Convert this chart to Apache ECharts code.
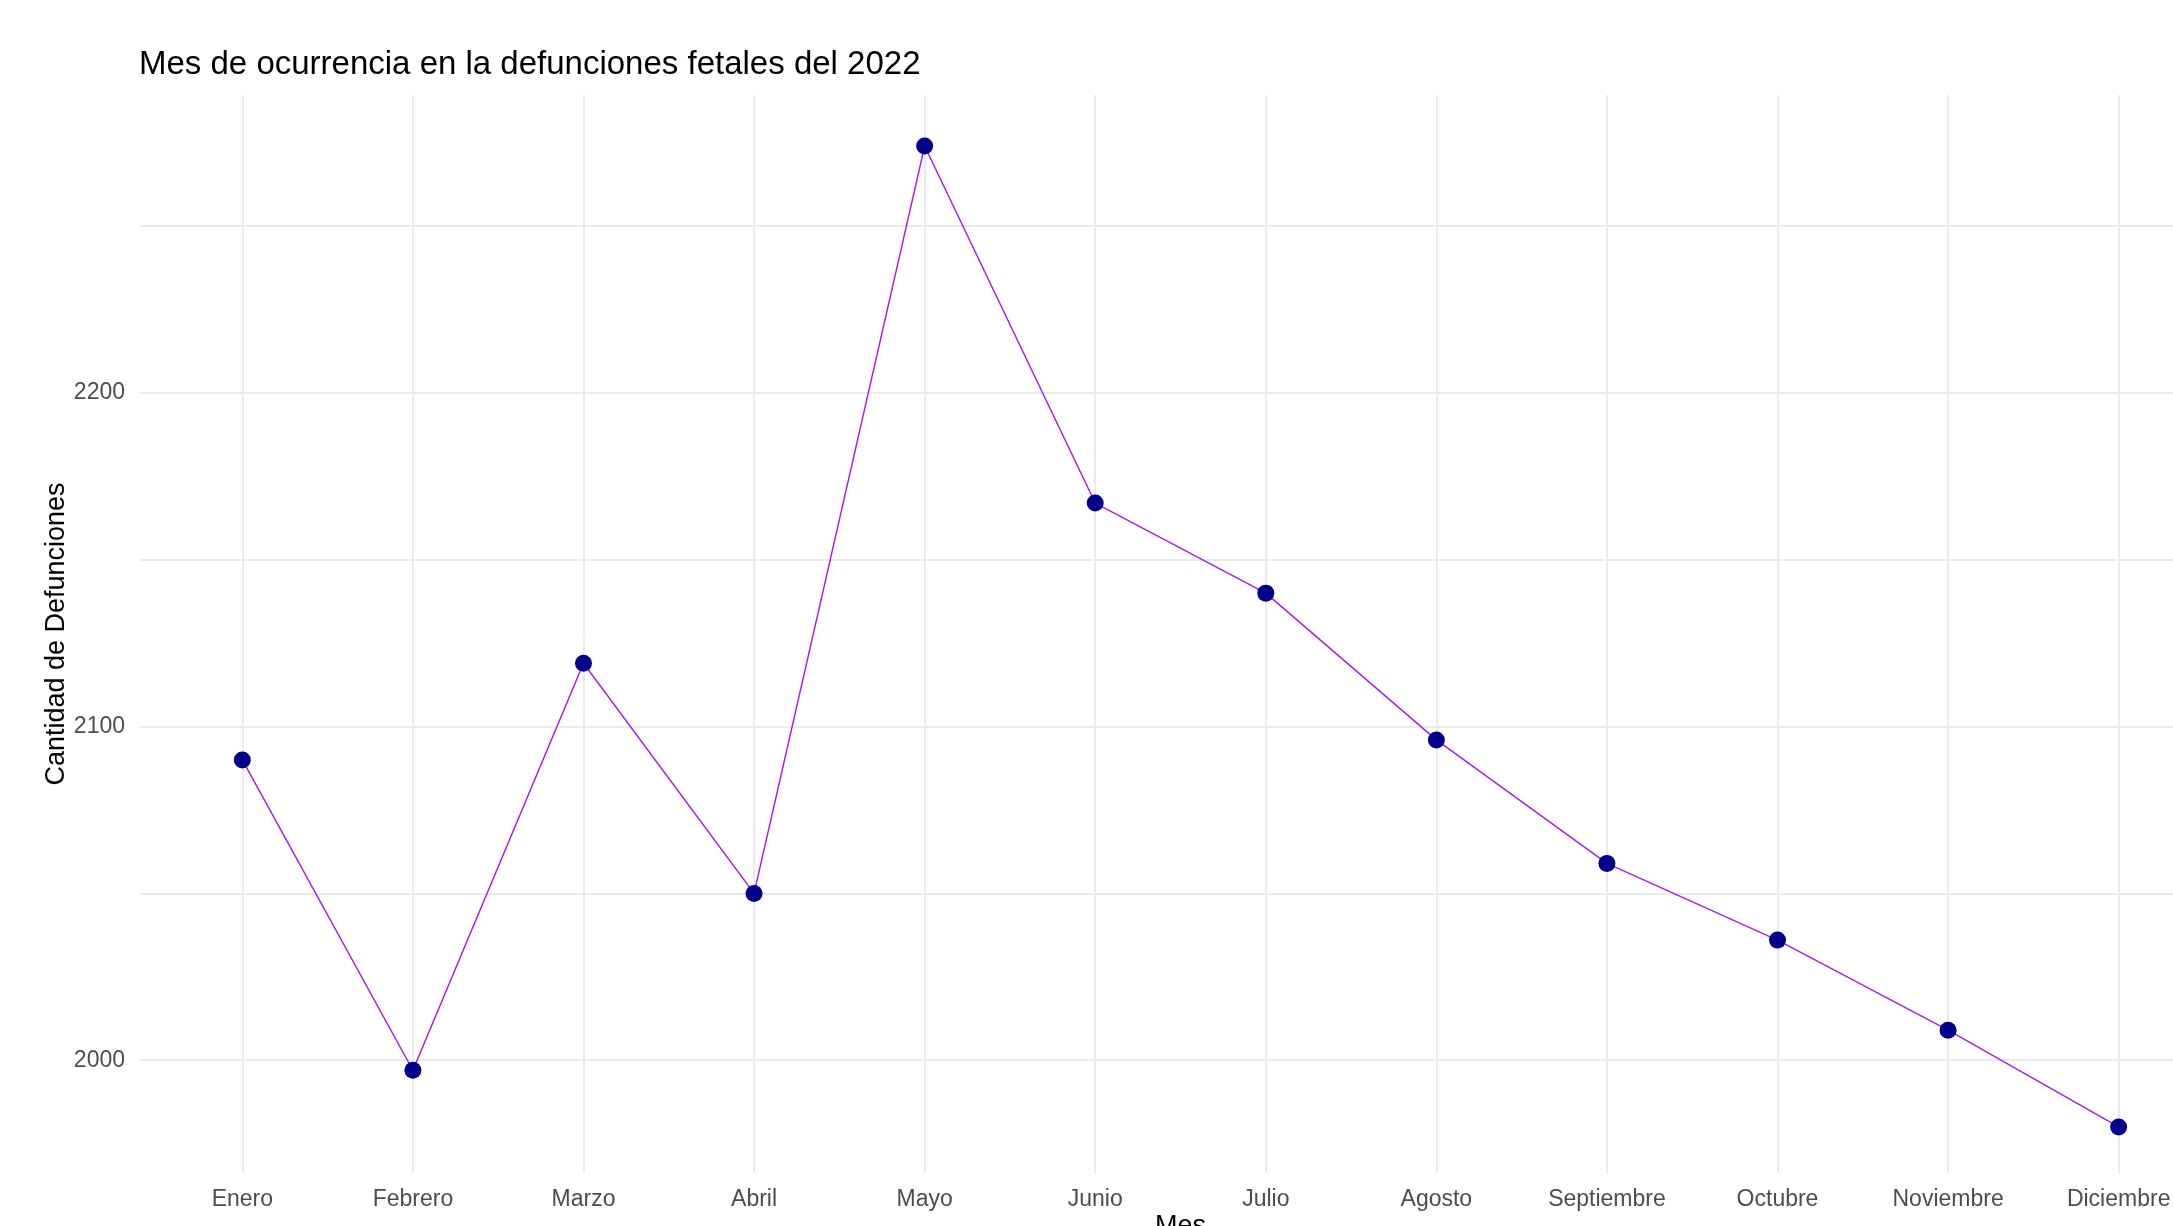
<!DOCTYPE html>
<html>
<head>
<meta charset="utf-8">
<title>Defunciones fetales 2022</title>
<script src="https://cdn.jsdelivr.net/npm/echarts@6/dist/echarts.min.js"></script>
<style>
	html, body { margin: 0; padding: 0; background: #fff; }
	#chart { width: 2173px; height: 1226px; }
</style>
</head>
<body>
<div id="chart"></div>
<script>
// meses (eje x)
const meses = ['Enero', 'Febrero', 'Marzo', 'Abril', 'Mayo', 'Junio',
	'Julio', 'Agosto', 'Septiembre', 'Octubre', 'Noviembre', 'Diciembre'];
// cantidad de defunciones por mes
const defunciones = [2090, 1997, 2119, 2050, 2274, 2167, 2140, 2096, 2059, 2036, 2009, 1980];
// lineas de la grilla
const ticksY = [2000, 2100, 2200];
const ticksMenores = [2050, 2150, 2250];

const fuente = 'Liberation Sans, Arial, sans-serif';
const gris = '#EBEBEB';

let myChart = echarts.init(document.getElementById('chart'));
let option = {
	animation: false,
	title: {
		text: 'Mes de ocurrencia en la defunciones fetales del 2022',
		left: 139,
		top: 48,
		padding: 0,
		textStyle: {
			fontFamily: fuente,
			fontSize: 33,
			lineHeight: 33,
			fontWeight: 'normal',
			color: '#000'
		}
	},
	grid: {
		left: 140,
		right: -48,
		top: 95,
		bottom: 53,
		outerBoundsMode: 'none'
	},
	xAxis: {
		type: 'value',
		min: 0.4,
		max: 12.6,
		splitNumber: 12,
		minInterval: 1,
		maxInterval: 1,
		name: 'Mes',
		nameLocation: 'middle',
		nameGap: 40,
		nameMoveOverlap: false,
		nameTextStyle: { fontFamily: fuente, fontSize: 27, lineHeight: 27, color: '#000' },
		axisLine: { show: false },
		axisTick: { show: false },
		axisLabel: {
			margin: 15,
			fontFamily: fuente,
			fontSize: 23,
			lineHeight: 23,
			color: '#4D4D4D',
			formatter: function (v) {
				return Number.isInteger(v) && v >= 1 && v <= meses.length ? meses[v - 1] : '';
			}
		},
		splitLine: {
			show: true,
			showMinLine: false,
			showMaxLine: false,
			lineStyle: { color: gris, width: 2 }
		}
	},
	yAxis: {
		type: 'value',
		min: 1966.2,
		max: 2289.3,
		splitNumber: 3,
		minInterval: 100,
		maxInterval: 100,
		name: 'Cantidad de Defunciones',
		nameLocation: 'middle',
		nameRotate: 90,
		nameGap: 70,
		nameMoveOverlap: false,
		nameTextStyle: { fontFamily: fuente, fontSize: 27, lineHeight: 27, color: '#000' },
		axisLine: { show: false },
		axisTick: { show: false },
		axisLabel: {
			margin: 15,
			fontFamily: fuente,
			fontSize: 23,
			color: '#4D4D4D',
			formatter: function (v) {
				return ticksY.indexOf(v) >= 0 ? String(v) : '';
			}
		},
		splitLine: {
			show: true,
			showMinLine: false,
			showMaxLine: false,
			lineStyle: { color: gris, width: 2 }
		}
	},
	series: [
		{
			name: 'Defunciones',
			type: 'line',
			data: meses.map((m, i) => [i + 1, defunciones[i]]),
			symbol: 'circle',
			symbolSize: 17,
			itemStyle: { color: '#00008B' },
			lineStyle: { color: '#A020F0', width: 1.5 },
			markLine: {
				silent: true,
				z: 1,
				symbol: 'none',
				label: { show: false },
				lineStyle: { type: 'solid', color: gris, width: 2 },
				data: ticksMenores.map(v => ({ yAxis: v }))
			}
		}
	]
};
myChart.setOption(option);
</script>
</body>
</html>
